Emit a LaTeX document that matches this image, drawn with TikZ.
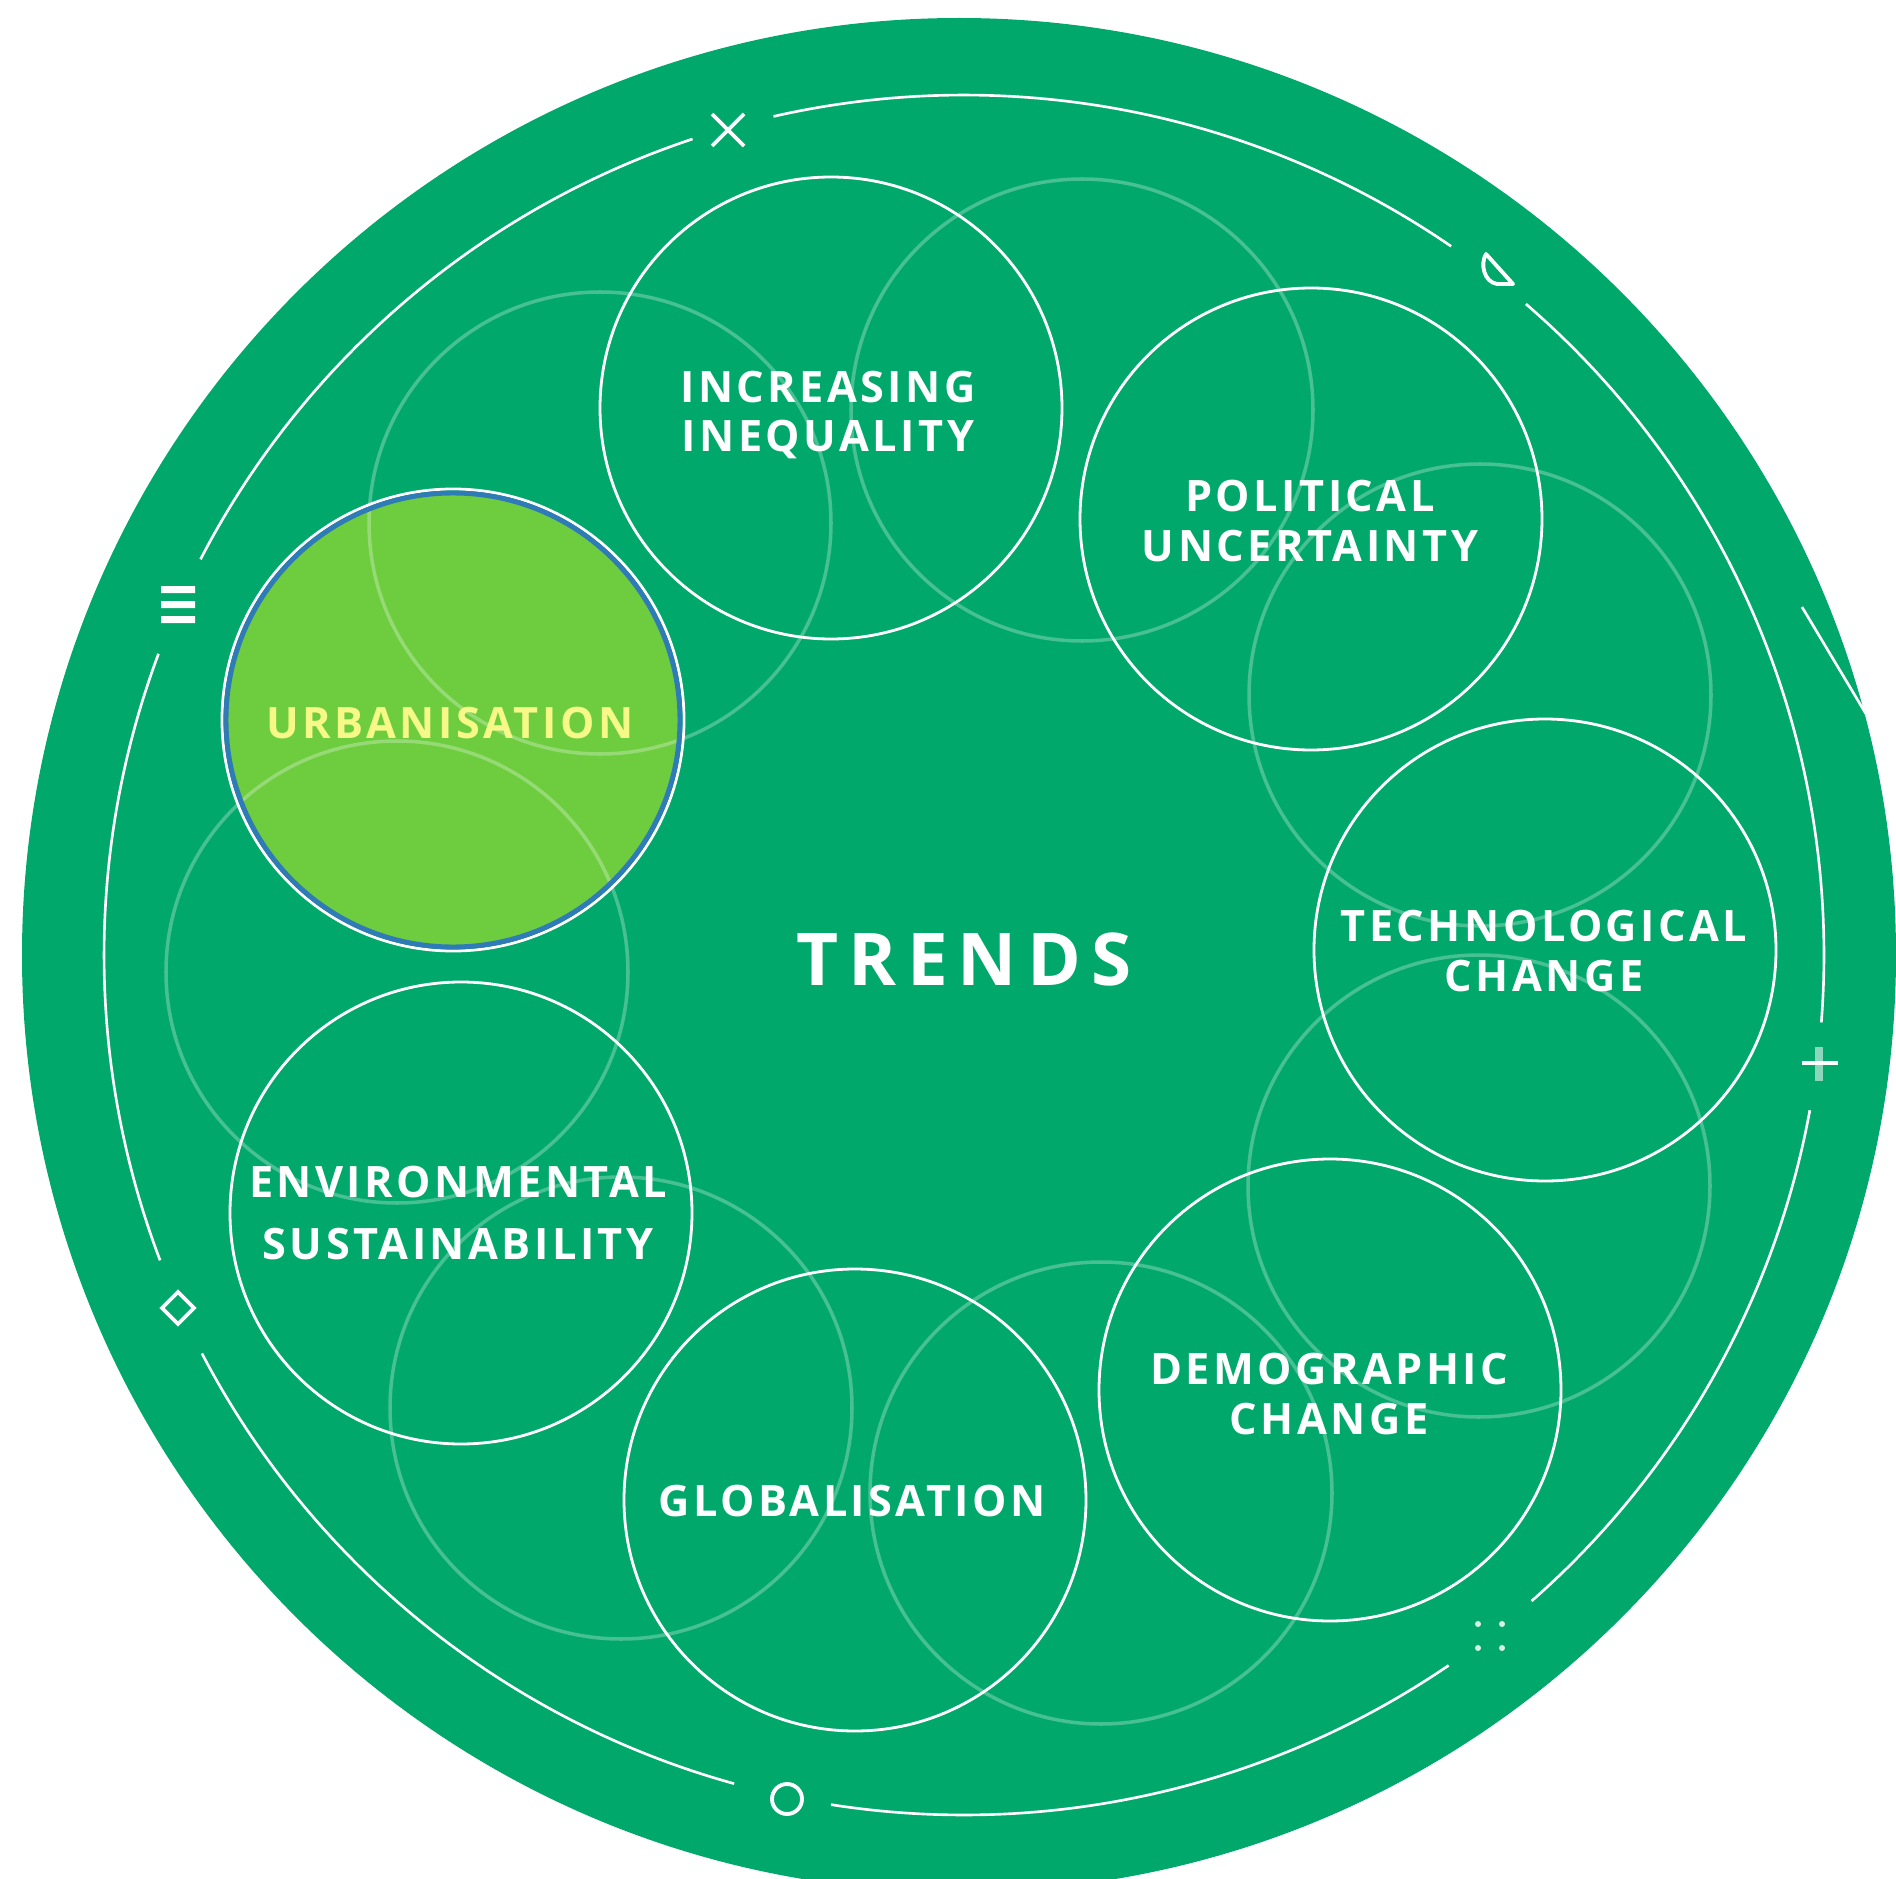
\documentclass[tikz,border=0pt]{standalone}
\usepackage{fontspec}
\usetikzlibrary{calc}
\newfontfamily\lblfont[LetterSpace=8]{Open Sans}
\newfontfamily\trendfont[LetterSpace=14]{Open Sans}
\definecolor{bg}{HTML}{00A86B}
\definecolor{urbfill}{HTML}{6DCD3F}
\definecolor{urbtext}{HTML}{F6F888}
\definecolor{urbblue}{HTML}{2E7BB8}
\tikzset{
  bold circ/.style={draw=white, line width=0.8pt},
  faint circ/.style={draw=white, draw opacity=0.28, line width=1pt},
  ringline/.style={draw=white, line width=0.75pt},
  lbl/.style={text=white, font=\lblfont\bfseries\fontsize{12.3}{14.2}\selectfont, align=center, inner sep=0pt},
  icon/.style={draw=white, line width=1.1pt},
}
\begin{document}
\begin{tikzpicture}[x=0.01cm,y=-0.01cm]
\useasboundingbox (0,0) rectangle (1896,1879);
\clip (0,0) rectangle (1896,1879);
\fill[bg] (959,955) circle[radius=937];
% urbanisation fill
\fill[urbfill] (453,720) circle[radius=227];
% faint circles
\foreach \cx/\cy in {1082/410, 600/523, 1480/695, 1479/1186, 1101/1493, 621/1408, 397/972}
  \draw[faint circ] (\cx,\cy) circle[radius=231];
% bold circles
\foreach \cx/\cy in {831/408, 1311/519, 1545/950, 1330/1390, 855/1500, 461/1213, 453/720}
  \draw[bold circ] (\cx,\cy) circle[radius=231];
\draw[urbblue, line width=1.4pt] (453,720) circle[radius=227];
% labels
\node[lbl] (ineq) at (828,415) {INCREASING\\INEQUALITY};
\node[lbl] (pol) at (1310,521) {POLITICAL\\UNCERTAINTY};
\node[lbl] (tech) at (1544,951) {TECHNOLOGICAL\\CHANGE};
\node[lbl] (demo) at (1329,1394) {DEMOGRAPHIC\\CHANGE};
\node[lbl] (glob) at (852,1501) {GLOBALISATION};
\node[lbl, font=\lblfont\bfseries\fontsize{12.3}{17.4}\selectfont] (env) at (458,1213) {ENVIRONMENTAL\\SUSTAINABILITY};
\node[lbl, text=urbtext] (urb) at (450,723) {URBANISATION};
\node[text=white, font=\trendfont\bfseries\fontsize{20.7}{24}\selectfont, inner sep=0pt] (trends) at (964,959) {TRENDS};
% outer ring
\foreach \a/\b in {108.4/152.6, 159.5/200.8, 207.6/254.5, 261.1/304.3, 311.3/349.6, 355.5/409.2, 415.5/462.8}
  \draw[ringline] (964,955) ++(-\a:860) arc[start angle=-\a, end angle=-\b, radius=860];
\draw[ringline] (1802,607) -- (1866,714);
% icons
\coordinate (xc) at (728,130);
\draw[icon] ($(xc)+(-16,-16)$) -- ($(xc)+(16,16)$) ($(xc)+(16,-16)$) -- ($(xc)+(-16,16)$);
\draw[icon, line join=round] (1486,254) -- (1513,284) -- (1497,284) .. controls (1484,282) and (1480,264) .. (1486,254) -- cycle;
\fill[white] (161,586) rectangle (195,593) (161,601) rectangle (195,608) (161,616) rectangle (195,623);
\draw[icon] (178,1292) -- (194,1308) -- (178,1324) -- (162,1308) -- cycle;
\draw[icon] (787,1799) circle[radius=15];
\foreach \dx/\dy in {1478/1624, 1502/1624, 1478/1648, 1502/1648}
  \fill[white, opacity=0.85] (\dx,\dy) circle[radius=3];
\draw[white, opacity=0.55, line width=2pt] (1819,1047) -- (1819,1081);
\draw[white, line width=0.9pt] (1802,1063) -- (1838,1063);
\end{tikzpicture}
\end{document}
